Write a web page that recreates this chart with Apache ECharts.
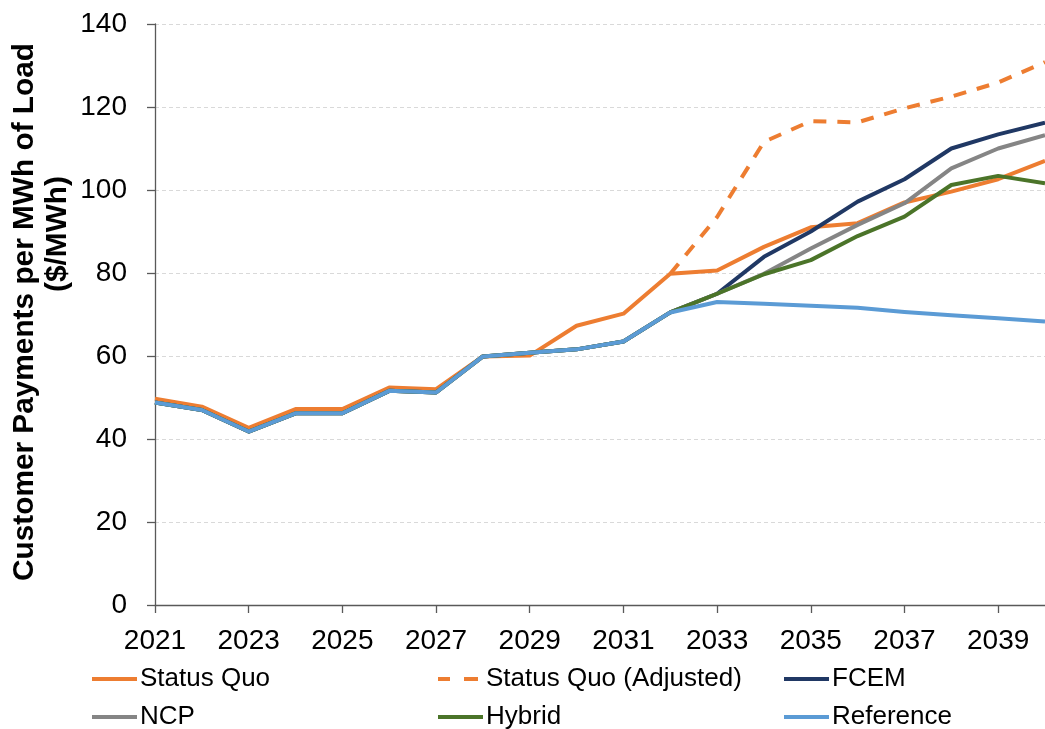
<!DOCTYPE html>
<html>
<head>
<meta charset="utf-8">
<script src="https://cdn.jsdelivr.net/npm/echarts@6/dist/echarts.min.js"></script>
<style>
html,body{margin:0;padding:0;background:#fff;}
#chart{width:1045px;height:729px;}
</style>
</head>
<body>
<div id="chart"></div>
<script>
const years = ['2021','2022','2023','2024','2025','2026','2027','2028','2029','2030','2031','2032','2033','2034','2035','2036','2037','2038','2039','2040'];
const statusQuo    = [49.7, 47.8, 42.7, 47.2, 47.2, 52.4, 52.0, 59.9, 60.1, 67.3, 70.2, 79.8, 80.6, 86.3, 91.0, 92.0, 97.0, 99.6, 102.6, 107.0];
const statusQuoAdj = [null, null, null, null, null, null, null, null, null, null, null, 79.8, 93.5, 111.6, 116.6, 116.3, 119.7, 122.5, 125.9, 130.8];
const fcem         = [48.8, 47.0, 41.8, 46.2, 46.2, 51.6, 51.2, 59.9, 60.8, 61.6, 63.5, 70.5, 75.0, 83.9, 90.0, 97.2, 102.6, 110.0, 113.4, 116.2];
const ncp          = [48.8, 47.0, 41.8, 46.2, 46.2, 51.6, 51.2, 59.9, 60.8, 61.6, 63.5, 70.5, 75.0, 79.8, 85.9, 91.6, 96.8, 105.2, 110.0, 113.2];
const hybrid       = [48.8, 47.0, 41.8, 46.2, 46.2, 51.6, 51.2, 59.9, 60.8, 61.6, 63.5, 70.5, 75.0, 79.7, 83.1, 88.9, 93.6, 101.2, 103.4, 101.6];
const reference    = [48.8, 47.0, 41.8, 46.2, 46.2, 51.6, 51.2, 59.9, 60.8, 61.6, 63.5, 70.5, 73.0, 72.6, 72.1, 71.6, 70.6, 69.8, 69.1, 68.3];
const yTicks = {min: 0, max: 140, interval: 20};
const yTitle = ['Customer Payments per MWh of Load', '($/MWh)'];

const FONT = "'Liberation Sans', Arial, sans-serif";
const chart = echarts.init(document.getElementById('chart'), null, {renderer: 'canvas'});

function mkSeries(name, data, color, dashed) {
  return {
    name: name, type: 'line', data: data, symbol: 'none', showSymbol: false,
    connectNulls: false, animation: false,
    lineStyle: {color: color, width: 4, type: dashed ? [13, 11] : 'solid', cap: 'butt', join: 'round'},
    itemStyle: {color: color}
  };
}
const series = [
  mkSeries('Status Quo', statusQuo, '#ED7D31', false),
  mkSeries('Status Quo (Adjusted)', statusQuoAdj, '#ED7D31', true),
  mkSeries('FCEM', fcem, '#203864', false),
  mkSeries('NCP', ncp, '#858585', false),
  mkSeries('Hybrid', hybrid, '#4B7429', false),
  mkSeries('Reference', reference, '#5B9BD5', false)
];

const SOLID = 'path://M0,0H45V4H0Z';
const DASHED = 'path://M0,0H12V4H0Z M26,0H40V4H26Z';
const legendPos = [
  {name: 'Status Quo', left: 92, top: 666, icon: SOLID, w: 45},
  {name: 'Status Quo (Adjusted)', left: 438, top: 666, icon: DASHED, w: 40},
  {name: 'FCEM', left: 784, top: 666, icon: SOLID, w: 45},
  {name: 'NCP', left: 92, top: 704, icon: SOLID, w: 45},
  {name: 'Hybrid', left: 438, top: 704, icon: SOLID, w: 45},
  {name: 'Reference', left: 784, top: 704, icon: SOLID, w: 45}
];
const legends = legendPos.map(p => ({
  data: [{name: p.name, icon: p.icon}], left: p.left, top: p.top, padding: 0,
  itemWidth: p.w, itemHeight: 4, itemGap: 0,
  textStyle: {fontFamily: FONT, fontSize: 26, color: '#000', padding: [0, 0, 0, p.w === 40 ? 3 : -2]},
  selectedMode: false
}));

chart.setOption({
  backgroundColor: '#fff',
  animation: false,
  textStyle: {fontFamily: FONT},
  grid: {left: 155, top: 24, width: 899.65, height: 581, containLabel: false},
  legend: legends,
  xAxis: {
    type: 'category', data: years, boundaryGap: false,
    axisLine: {show: true, lineStyle: {color: '#595959', width: 1.3}},
    axisTick: {show: true, interval: 1, length: 8, inside: false, lineStyle: {color: '#595959', width: 1.3}},
    axisLabel: {interval: 1, margin: 22, fontSize: 28, color: '#000', fontFamily: FONT},
    splitLine: {show: false}
  },
  yAxis: {
    type: 'value', min: yTicks.min, max: yTicks.max, interval: yTicks.interval,
    axisLine: {show: true, lineStyle: {color: '#595959', width: 1.3}},
    axisTick: {show: true, length: 8, inside: false, lineStyle: {color: '#595959', width: 1.3}},
    axisLabel: {margin: 28, fontSize: 28, color: '#000', fontFamily: FONT},
    splitLine: {show: true, lineStyle: {color: '#d9d9d9', width: 1, type: [4, 3]}}
  },
  graphic: [
    {type: 'text', x: 25, y: 312, rotation: Math.PI / 2,
     style: {text: yTitle[0], fontFamily: FONT, fontSize: 29.8, fontWeight: 'bold', fill: '#000', textAlign: 'center', textVerticalAlign: 'middle'}},
    {type: 'text', x: 58, y: 234, rotation: Math.PI / 2,
     style: {text: yTitle[1], fontFamily: FONT, fontSize: 29.8, fontWeight: 'bold', fill: '#000', textAlign: 'center', textVerticalAlign: 'middle'}}
  ],
  series: series
});
</script>
</body>
</html>
